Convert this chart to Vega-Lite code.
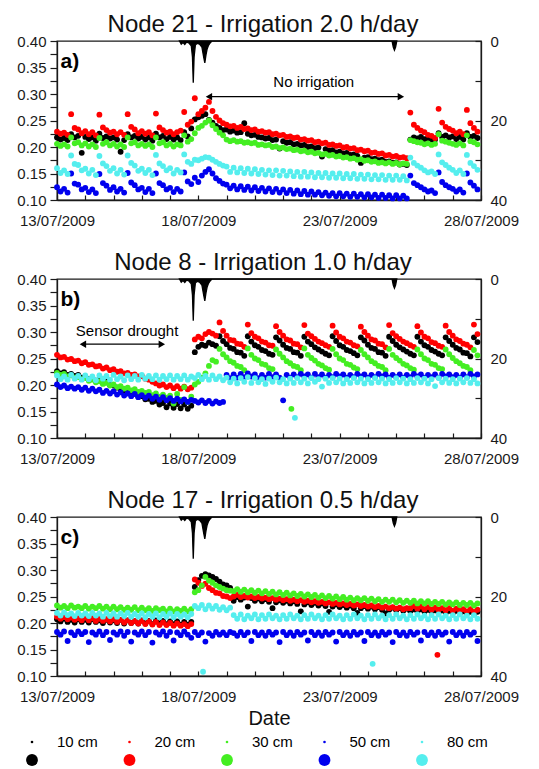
{
"$schema": "https://vega.github.io/schema/vega-lite/v6.json",
"background": "white",
"padding": {"left": 16, "top": 12, "right": 5, "bottom": 5},
"config": {
 "font": "Liberation Sans",
 "view": {"stroke": "#1a1a1a", "strokeWidth": 1.3},
 "axis": {"labelFont": "Liberation Sans", "labelFontSize": 15, "labelColor": "#1a1a1a", "tickColor": "#1a1a1a", "domainColor": "#1a1a1a", "domainWidth": 1.3, "tickWidth": 1.2, "grid": false, "titleFont": "Liberation Sans"},
 "title": {"font": "Liberation Sans", "fontSize": 24, "fontWeight": "normal", "color": "#111", "anchor": "middle", "offset": -3, "dx": -6},
 "text": {"font": "Liberation Sans"}
},
"datasets": {
 "A": [
{"h":0,"a":0.218,"b":0.229,"c":0.206,"d":0.124,"e":0.160},
{"h":3,"a":0.214,"b":0.225,"c":0.202,"d":0.116,"e":0.151},
{"h":6,"a":0.217,"b":0.227,"c":0.205,"d":0.121,"e":0.156},
{"h":9,"a":0.213,"b":0.223,"c":0.201,"d":0.114,"e":0.149},
{"h":12,"a":0.224,"b":0.262,"c":0.218,"d":0.150,"e":0.184},
{"h":15,"a":0.218,"b":0.236,"c":0.207,"d":0.131,"e":0.168},
{"h":18,"a":0.221,"b":0.233,"c":0.209,"d":0.129,"e":0.166},
{"h":21,"a":0.189,"b":0.226,"c":0.203,"d":0.120,"e":0.156},
{"h":24,"a":0.219,"b":0.230,"c":0.207,"d":0.123,"e":0.159},
{"h":27,"a":0.215,"b":0.224,"c":0.201,"d":0.115,"e":0.150},
{"h":30,"a":0.218,"b":0.228,"c":0.205,"d":0.120,"e":0.157},
{"h":33,"a":0.212,"b":0.222,"c":0.200,"d":0.113,"e":0.147},
{"h":36,"a":0.225,"b":0.261,"c":0.217,"d":0.149,"e":0.183},
{"h":39,"a":0.217,"b":0.237,"c":0.206,"d":0.132,"e":0.169},
{"h":42,"a":0.220,"b":0.232,"c":0.209,"d":0.127,"e":0.164},
{"h":45,"a":0.216,"b":0.227,"c":0.203,"d":0.119,"e":0.155},
{"h":48,"a":0.218,"b":0.229,"c":0.206,"d":0.124,"e":0.160},
{"h":51,"a":0.214,"b":0.224,"c":0.201,"d":0.116,"e":0.150},
{"h":54,"a":0.191,"b":0.228,"c":0.205,"d":0.121,"e":0.157},
{"h":57,"a":0.213,"b":0.223,"c":0.200,"d":0.114,"e":0.148},
{"h":60,"a":0.224,"b":0.262,"c":0.218,"d":0.151,"e":0.184},
{"h":63,"a":0.218,"b":0.238,"c":0.207,"d":0.133,"e":0.170},
{"h":66,"a":0.221,"b":0.233,"c":0.209,"d":0.128,"e":0.165},
{"h":69,"a":0.216,"b":0.226,"c":0.203,"d":0.120,"e":0.155},
{"h":72,"a":0.219,"b":0.230,"c":0.206,"d":0.123,"e":0.159},
{"h":75,"a":0.214,"b":0.225,"c":0.202,"d":0.115,"e":0.151},
{"h":78,"a":0.218,"b":0.228,"c":0.205,"d":0.121,"e":0.157},
{"h":81,"a":0.212,"b":0.222,"c":0.200,"d":0.113,"e":0.147},
{"h":84,"a":0.225,"b":0.263,"c":0.218,"d":0.150,"e":0.185},
{"h":87,"a":0.218,"b":0.237,"c":0.207,"d":0.132,"e":0.169},
{"h":90,"a":0.221,"b":0.232,"c":0.209,"d":0.128,"e":0.164},
{"h":93,"a":0.215,"b":0.227,"c":0.203,"d":0.120,"e":0.156},
{"h":96,"a":0.219,"b":0.229,"c":0.206,"d":0.123,"e":0.160},
{"h":99,"a":0.214,"b":0.224,"c":0.201,"d":0.115,"e":0.150},
{"h":102,"a":0.218,"b":0.228,"c":0.205,"d":0.121,"e":0.157},
{"h":105,"a":0.213,"b":0.231,"c":0.203,"d":0.116,"e":0.152},
{"h":108,"a":0.228,"b":0.266,"c":0.222,"d":0.152,"e":0.186},
{"h":111,"a":0.220,"b":0.242,"c":0.210,"d":0.135,"e":0.172},
{"h":114,"a":0.235,"b":0.248,"c":0.215,"d":0.130,"e":0.168},
{"h":117,"a":0.252,"b":0.292,"c":0.226,"d":0.142,"e":0.176},
{"h":120,"a":0.256,"b":0.262,"c":0.236,"d":0.134,"e":0.175},
{"h":123,"a":0.259,"b":0.268,"c":0.240,"d":0.146,"e":0.178},
{"h":126,"a":0.262,"b":0.274,"c":0.246,"d":0.153,"e":0.181},
{"h":129,"a":0.251,"b":0.285,"c":0.250,"d":0.158,"e":0.180},
{"h":132,"a":0.246,"b":0.268,"c":0.241,"d":0.150,"e":0.176},
{"h":135,"a":0.240,"b":0.257,"c":0.234,"d":0.141,"e":0.172},
{"h":138,"a":0.236,"b":0.250,"c":0.227,"d":0.136,"e":0.168},
{"h":141,"a":0.232,"b":0.245,"c":0.222,"d":0.131,"e":0.165},
{"h":144,"a":0.233,"b":0.242,"c":0.214,"d":0.129,"e":0.163},
{"h":147,"a":0.229,"b":0.239,"c":0.211,"d":0.122,"e":0.153},
{"h":150,"a":0.231,"b":0.240,"c":0.213,"d":0.127,"e":0.161},
{"h":153,"a":0.227,"b":0.236,"c":0.210,"d":0.120,"e":0.152},
{"h":156,"a":0.228,"b":0.238,"c":0.211,"d":0.126,"e":0.160},
{"h":159,"a":0.245,"b":0.234,"c":0.208,"d":0.119,"e":0.151},
{"h":162,"a":0.225,"b":0.235,"c":0.209,"d":0.125,"e":0.159},
{"h":165,"a":0.222,"b":0.232,"c":0.207,"d":0.118,"e":0.150},
{"h":168,"a":0.223,"b":0.233,"c":0.208,"d":0.124,"e":0.158},
{"h":171,"a":0.219,"b":0.229,"c":0.204,"d":0.117,"e":0.149},
{"h":174,"a":0.218,"b":0.230,"c":0.205,"d":0.123,"e":0.157},
{"h":177,"a":0.216,"b":0.227,"c":0.203,"d":0.116,"e":0.148},
{"h":180,"a":0.217,"b":0.228,"c":0.204,"d":0.122,"e":0.156},
{"h":183,"a":0.213,"b":0.224,"c":0.200,"d":0.115,"e":0.147},
{"h":186,"a":0.214,"b":0.225,"c":0.201,"d":0.121,"e":0.156},
{"h":189,"a":0.197,"b":0.222,"c":0.198,"d":0.114,"e":0.146},
{"h":192,"a":0.211,"b":0.223,"c":0.199,"d":0.120,"e":0.155},
{"h":195,"a":0.208,"b":0.219,"c":0.196,"d":0.113,"e":0.146},
{"h":198,"a":0.209,"b":0.220,"c":0.197,"d":0.119,"e":0.154},
{"h":201,"a":0.205,"b":0.217,"c":0.194,"d":0.112,"e":0.145},
{"h":204,"a":0.206,"b":0.218,"c":0.195,"d":0.118,"e":0.153},
{"h":207,"a":0.203,"b":0.214,"c":0.192,"d":0.111,"e":0.144},
{"h":210,"a":0.204,"b":0.215,"c":0.193,"d":0.117,"e":0.153},
{"h":213,"a":0.200,"b":0.212,"c":0.190,"d":0.110,"e":0.144},
{"h":216,"a":0.201,"b":0.213,"c":0.191,"d":0.116,"e":0.152},
{"h":219,"a":0.198,"b":0.209,"c":0.188,"d":0.110,"e":0.143},
{"h":222,"a":0.199,"b":0.210,"c":0.189,"d":0.115,"e":0.151},
{"h":225,"a":0.182,"b":0.207,"c":0.186,"d":0.109,"e":0.143},
{"h":228,"a":0.196,"b":0.208,"c":0.187,"d":0.114,"e":0.151},
{"h":231,"a":0.193,"b":0.204,"c":0.184,"d":0.108,"e":0.142},
{"h":234,"a":0.194,"b":0.205,"c":0.185,"d":0.113,"e":0.150},
{"h":237,"a":0.190,"b":0.202,"c":0.182,"d":0.107,"e":0.142},
{"h":240,"a":0.191,"b":0.203,"c":0.183,"d":0.113,"e":0.150},
{"h":243,"a":0.188,"b":0.199,"c":0.180,"d":0.107,"e":0.141},
{"h":246,"a":0.189,"b":0.200,"c":0.181,"d":0.112,"e":0.149},
{"h":249,"a":0.185,"b":0.197,"c":0.178,"d":0.106,"e":0.141},
{"h":252,"a":0.186,"b":0.198,"c":0.179,"d":0.112,"e":0.149},
{"h":255,"a":0.183,"b":0.194,"c":0.176,"d":0.106,"e":0.140},
{"h":258,"a":0.170,"b":0.195,"c":0.177,"d":0.111,"e":0.148},
{"h":261,"a":0.180,"b":0.192,"c":0.174,"d":0.105,"e":0.140},
{"h":264,"a":0.181,"b":0.193,"c":0.175,"d":0.111,"e":0.148},
{"h":267,"a":0.177,"b":0.189,"c":0.172,"d":0.105,"e":0.139},
{"h":270,"a":0.178,"b":0.190,"c":0.173,"d":0.110,"e":0.147},
{"h":273,"a":0.175,"b":0.187,"c":0.170,"d":0.104,"e":0.139},
{"h":276,"a":0.176,"b":0.188,"c":0.171,"d":0.110,"e":0.147},
{"h":279,"a":0.172,"b":0.184,"c":0.169,"d":0.104,"e":0.138},
{"h":282,"a":0.173,"b":0.185,"c":0.171,"d":0.109,"e":0.146},
{"h":285,"a":0.170,"b":0.182,"c":0.168,"d":0.103,"e":0.138},
{"h":288,"a":0.171,"b":0.183,"c":0.170,"d":0.109,"e":0.146},
{"h":291,"a":0.167,"b":0.180,"c":0.167,"d":0.103,"e":0.138},
{"h":294,"a":0.168,"b":0.181,"c":0.169,"d":0.108,"e":0.145},
{"h":297,"a":0.166,"b":0.179,"c":0.168,"d":0.103,"e":0.137},
{"h":300,"a":0.214,"b":0.265,"c":0.213,"d":0.146,"e":0.180},
{"h":303,"a":0.218,"b":0.242,"c":0.211,"d":0.132,"e":0.170},
{"h":306,"a":0.216,"b":0.236,"c":0.209,"d":0.128,"e":0.165},
{"h":309,"a":0.219,"b":0.231,"c":0.208,"d":0.124,"e":0.161},
{"h":312,"a":0.215,"b":0.228,"c":0.205,"d":0.120,"e":0.156},
{"h":315,"a":0.217,"b":0.223,"c":0.207,"d":0.116,"e":0.152},
{"h":318,"a":0.213,"b":0.221,"c":0.204,"d":0.118,"e":0.154},
{"h":321,"a":0.214,"b":0.217,"c":0.206,"d":0.113,"e":0.149},
{"h":324,"a":0.226,"b":0.272,"c":0.224,"d":0.152,"e":0.186},
{"h":327,"a":0.219,"b":0.246,"c":0.212,"d":0.134,"e":0.171},
{"h":330,"a":0.222,"b":0.238,"c":0.210,"d":0.128,"e":0.166},
{"h":333,"a":0.218,"b":0.234,"c":0.208,"d":0.124,"e":0.161},
{"h":336,"a":0.220,"b":0.231,"c":0.206,"d":0.121,"e":0.157},
{"h":339,"a":0.215,"b":0.226,"c":0.204,"d":0.116,"e":0.151},
{"h":342,"a":0.219,"b":0.229,"c":0.207,"d":0.120,"e":0.156},
{"h":345,"a":0.214,"b":0.224,"c":0.203,"d":0.114,"e":0.149},
{"h":348,"a":0.226,"b":0.270,"c":0.222,"d":0.150,"e":0.185},
{"h":351,"a":0.219,"b":0.245,"c":0.211,"d":0.133,"e":0.170},
{"h":354,"a":0.221,"b":0.236,"c":0.209,"d":0.127,"e":0.164},
{"h":357,"a":0.217,"b":0.229,"c":0.205,"d":0.120,"e":0.157}
 ],
 "B": [
{"h":0,"a":0.226,"b":0.257,"c":0.223,"d":0.201,"e":0.218},
{"h":3,"a":0.222,"b":0.252,"c":0.219,"d":0.196,"e":0.211},
{"h":6,"a":0.224,"b":0.253,"c":0.221,"d":0.199,"e":0.216},
{"h":9,"a":0.219,"b":0.248,"c":0.216,"d":0.194,"e":0.210},
{"h":12,"a":0.221,"b":0.249,"c":0.218,"d":0.197,"e":0.219},
{"h":15,"a":0.217,"b":0.245,"c":0.214,"d":0.193,"e":0.212},
{"h":18,"a":0.219,"b":0.246,"c":0.215,"d":0.196,"e":0.217},
{"h":21,"a":0.214,"b":0.241,"c":0.211,"d":0.191,"e":0.210},
{"h":24,"a":0.216,"b":0.243,"c":0.213,"d":0.195,"e":0.218},
{"h":27,"a":0.211,"b":0.238,"c":0.208,"d":0.189,"e":0.211},
{"h":30,"a":0.213,"b":0.239,"c":0.210,"d":0.193,"e":0.216},
{"h":33,"a":0.208,"b":0.235,"c":0.205,"d":0.188,"e":0.209},
{"h":36,"a":0.210,"b":0.236,"c":0.207,"d":0.191,"e":0.218},
{"h":39,"a":0.204,"b":0.231,"c":0.202,"d":0.185,"e":0.212},
{"h":42,"a":0.206,"b":0.233,"c":0.204,"d":0.189,"e":0.217},
{"h":45,"a":0.200,"b":0.228,"c":0.199,"d":0.184,"e":0.210},
{"h":48,"a":0.199,"b":0.230,"c":0.201,"d":0.188,"e":0.219},
{"h":51,"a":0.195,"b":0.225,"c":0.196,"d":0.182,"e":0.211},
{"h":54,"a":0.193,"b":0.226,"c":0.198,"d":0.186,"e":0.216},
{"h":57,"a":0.188,"b":0.222,"c":0.193,"d":0.180,"e":0.209},
{"h":60,"a":0.189,"b":0.223,"c":0.195,"d":0.184,"e":0.218},
{"h":63,"a":0.183,"b":0.219,"c":0.190,"d":0.179,"e":0.211},
{"h":66,"a":0.184,"b":0.220,"c":0.192,"d":0.183,"e":0.217},
{"h":69,"a":0.178,"b":0.216,"c":0.187,"d":0.177,"e":0.210},
{"h":72,"a":0.179,"b":0.217,"c":0.189,"d":0.181,"e":0.219},
{"h":75,"a":0.173,"b":0.212,"c":0.185,"d":0.176,"e":0.212},
{"h":78,"a":0.174,"b":0.210,"c":0.187,"d":0.180,"e":0.217},
{"h":81,"a":0.168,"b":0.206,"c":0.181,"d":0.174,"e":0.211},
{"h":84,"a":0.170,"b":0.203,"c":0.184,"d":0.178,"e":0.218},
{"h":87,"a":0.163,"b":0.199,"c":0.178,"d":0.172,"e":0.210},
{"h":90,"a":0.166,"b":0.201,"c":0.182,"d":0.177,"e":0.217},
{"h":93,"a":0.158,"b":0.196,"c":0.176,"d":0.171,"e":0.211},
{"h":96,"a":0.165,"b":0.199,"c":0.180,"d":0.175,"e":0.218},
{"h":99,"a":0.157,"b":0.194,"c":0.165,"d":0.170,"e":0.210},
{"h":102,"a":0.164,"b":0.198,"c":0.183,"d":0.174,"e":0.217},
{"h":105,"a":0.156,"b":0.193,"c":0.172,"d":0.169,"e":0.211},
{"h":108,"a":0.163,"b":0.197,"c":0.196,"d":0.173,"e":0.218},
{"h":111,"a":0.155,"b":0.192,"c":0.168,"d":0.168,"e":0.210},
{"h":114,"a":0.161,"b":0.195,"c":0.178,"d":0.172,"e":0.216},
{"h":117,"a":0.262,"b":0.286,"c":0.201,"d":0.170,"e":0.213},
{"h":120,"a":0.272,"b":0.291,"c":0.206,"d":0.167,"e":0.219},
{"h":123,"a":0.276,"b":0.288,"c":0.214,"d":0.171,"e":0.211},
{"h":126,"a":0.274,"b":0.296,"c":0.222,"d":0.166,"e":0.217},
{"h":129,"a":0.280,"b":0.300,"c":0.236,"d":0.170,"e":0.210},
{"h":132,"a":0.277,"b":0.297,"c":0.247,"d":0.165,"e":0.218},
{"h":135,"a":0.274,"b":0.293,"c":0.244,"d":0.169,"e":0.211},
{"h":138,"a":0.292,"b":0.318,"c":0.268,"d":0.166,"e":0.216},
{"h":141,"a":0.283,"b":0.302,"c":0.258,"d":0.168,"e":0.209},
{"h":144,"a":0.277,"b":0.293,"c":0.252,"d":0.219,"e":0.214},
{"h":147,"a":0.270,"b":0.285,"c":0.245,"d":0.213,"e":0.205},
{"h":150,"a":0.268,"b":0.284,"c":0.242,"d":0.220,"e":0.212},
{"h":153,"a":0.262,"b":0.278,"c":0.236,"d":0.214,"e":0.203},
{"h":156,"a":0.261,"b":0.277,"c":0.234,"d":0.221,"e":0.213},
{"h":159,"a":0.255,"b":0.272,"c":0.228,"d":0.215,"e":0.206},
{"h":162,"a":0.292,"b":0.314,"c":0.269,"d":0.222,"e":0.215},
{"h":165,"a":0.282,"b":0.298,"c":0.257,"d":0.216,"e":0.204},
{"h":168,"a":0.275,"b":0.291,"c":0.250,"d":0.220,"e":0.213},
{"h":171,"a":0.272,"b":0.288,"c":0.247,"d":0.213,"e":0.205},
{"h":174,"a":0.266,"b":0.282,"c":0.240,"d":0.219,"e":0.211},
{"h":177,"a":0.264,"b":0.280,"c":0.238,"d":0.214,"e":0.202},
{"h":180,"a":0.259,"b":0.275,"c":0.232,"d":0.221,"e":0.212},
{"h":183,"a":0.257,"b":0.274,"c":0.230,"d":0.215,"e":0.206},
{"h":186,"a":0.290,"b":0.311,"c":0.267,"d":0.220,"e":0.214},
{"h":189,"a":0.284,"b":0.300,"c":0.259,"d":0.214,"e":0.205},
{"h":192,"a":0.276,"b":0.293,"c":0.252,"d":0.171,"e":0.211},
{"h":195,"a":0.270,"b":0.286,"c":0.245,"d":0.219,"e":0.203},
{"h":198,"a":0.268,"b":0.284,"c":0.241,"d":0.214,"e":0.212},
{"h":201,"a":0.262,"b":0.278,"c":0.236,"d":0.220,"e":0.204},
{"h":204,"a":0.261,"b":0.277,"c":0.234,"d":0.215,"e":0.213},
{"h":207,"a":0.255,"b":0.271,"c":0.228,"d":0.221,"e":0.205},
{"h":210,"a":0.291,"b":0.313,"c":0.269,"d":0.216,"e":0.212},
{"h":213,"a":0.282,"b":0.297,"c":0.257,"d":0.220,"e":0.203},
{"h":216,"a":0.277,"b":0.292,"c":0.251,"d":0.214,"e":0.213},
{"h":219,"a":0.271,"b":0.287,"c":0.246,"d":0.221,"e":0.206},
{"h":222,"a":0.267,"b":0.282,"c":0.240,"d":0.215,"e":0.211},
{"h":225,"a":0.263,"b":0.279,"c":0.237,"d":0.220,"e":0.197},
{"h":228,"a":0.259,"b":0.275,"c":0.232,"d":0.214,"e":0.212},
{"h":231,"a":0.256,"b":0.272,"c":0.229,"d":0.219,"e":0.204},
{"h":234,"a":0.292,"b":0.312,"c":0.268,"d":0.215,"e":0.213},
{"h":237,"a":0.283,"b":0.299,"c":0.258,"d":0.221,"e":0.205},
{"h":240,"a":0.275,"b":0.291,"c":0.250,"d":0.216,"e":0.212},
{"h":243,"a":0.272,"b":0.288,"c":0.247,"d":0.220,"e":0.203},
{"h":246,"a":0.266,"b":0.282,"c":0.240,"d":0.214,"e":0.211},
{"h":249,"a":0.264,"b":0.280,"c":0.238,"d":0.219,"e":0.204},
{"h":252,"a":0.260,"b":0.275,"c":0.233,"d":0.215,"e":0.213},
{"h":255,"a":0.256,"b":0.273,"c":0.230,"d":0.221,"e":0.205},
{"h":258,"a":0.290,"b":0.310,"c":0.266,"d":0.216,"e":0.212},
{"h":261,"a":0.284,"b":0.300,"c":0.258,"d":0.220,"e":0.203},
{"h":264,"a":0.276,"b":0.293,"c":0.252,"d":0.214,"e":0.211},
{"h":267,"a":0.270,"b":0.286,"c":0.245,"d":0.219,"e":0.204},
{"h":270,"a":0.268,"b":0.284,"c":0.241,"d":0.215,"e":0.213},
{"h":273,"a":0.262,"b":0.278,"c":0.236,"d":0.221,"e":0.205},
{"h":276,"a":0.261,"b":0.277,"c":0.234,"d":0.216,"e":0.212},
{"h":279,"a":0.255,"b":0.271,"c":0.228,"d":0.220,"e":0.203},
{"h":282,"a":0.291,"b":0.313,"c":0.268,"d":0.214,"e":0.211},
{"h":285,"a":0.283,"b":0.298,"c":0.257,"d":0.219,"e":0.204},
{"h":288,"a":0.276,"b":0.292,"c":0.251,"d":0.215,"e":0.213},
{"h":291,"a":0.271,"b":0.287,"c":0.246,"d":0.220,"e":0.205},
{"h":294,"a":0.267,"b":0.282,"c":0.240,"d":0.214,"e":0.212},
{"h":297,"a":0.263,"b":0.279,"c":0.237,"d":0.219,"e":0.203},
{"h":300,"a":0.259,"b":0.275,"c":0.232,"d":0.215,"e":0.211},
{"h":303,"a":0.256,"b":0.272,"c":0.229,"d":0.221,"e":0.204},
{"h":306,"a":0.291,"b":0.311,"c":0.267,"d":0.216,"e":0.213},
{"h":309,"a":0.282,"b":0.299,"c":0.258,"d":0.220,"e":0.205},
{"h":312,"a":0.275,"b":0.291,"c":0.250,"d":0.214,"e":0.212},
{"h":315,"a":0.272,"b":0.288,"c":0.247,"d":0.219,"e":0.203},
{"h":318,"a":0.266,"b":0.281,"c":0.240,"d":0.215,"e":0.211},
{"h":321,"a":0.263,"b":0.279,"c":0.238,"d":0.220,"e":0.198},
{"h":324,"a":0.259,"b":0.274,"c":0.232,"d":0.214,"e":0.213},
{"h":327,"a":0.256,"b":0.272,"c":0.230,"d":0.221,"e":0.205},
{"h":330,"a":0.290,"b":0.312,"c":0.267,"d":0.216,"e":0.212},
{"h":333,"a":0.283,"b":0.300,"c":0.258,"d":0.220,"e":0.204},
{"h":336,"a":0.276,"b":0.293,"c":0.251,"d":0.215,"e":0.211},
{"h":339,"a":0.270,"b":0.286,"c":0.245,"d":0.219,"e":0.203},
{"h":342,"a":0.267,"b":0.283,"c":0.241,"d":0.214,"e":0.212},
{"h":345,"a":0.261,"b":0.278,"c":0.236,"d":0.220,"e":0.205},
{"h":348,"a":0.260,"b":0.276,"c":0.234,"d":0.215,"e":0.213},
{"h":351,"a":0.254,"b":0.271,"c":0.228,"d":0.221,"e":0.204},
{"h":354,"a":0.290,"b":0.314,"c":0.266,"d":0.216,"e":0.211},
{"h":357,"a":0.281,"b":0.296,"c":0.256,"d":0.220,"e":0.203},
{"h":199,"c":0.155},
{"h":202,"e":0.138}
 ],
 "C": [
{"h":0,"a":0.207,"b":0.212,"c":0.233,"d":0.183,"e":0.219},
{"h":3,"a":0.203,"b":0.208,"c":0.229,"d":0.178,"e":0.214},
{"h":6,"a":0.208,"b":0.211,"c":0.232,"d":0.184,"e":0.220},
{"h":9,"a":0.202,"b":0.207,"c":0.228,"d":0.166,"e":0.215},
{"h":12,"a":0.206,"b":0.210,"c":0.233,"d":0.182,"e":0.218},
{"h":15,"a":0.201,"b":0.206,"c":0.229,"d":0.177,"e":0.213},
{"h":18,"a":0.207,"b":0.209,"c":0.231,"d":0.184,"e":0.219},
{"h":21,"a":0.202,"b":0.205,"c":0.228,"d":0.179,"e":0.214},
{"h":24,"a":0.206,"b":0.210,"c":0.232,"d":0.183,"e":0.218},
{"h":27,"a":0.201,"b":0.205,"c":0.227,"d":0.164,"e":0.213},
{"h":30,"a":0.207,"b":0.209,"c":0.231,"d":0.182,"e":0.219},
{"h":33,"a":0.202,"b":0.204,"c":0.228,"d":0.178,"e":0.214},
{"h":36,"a":0.205,"b":0.208,"c":0.232,"d":0.184,"e":0.218},
{"h":39,"a":0.200,"b":0.204,"c":0.227,"d":0.177,"e":0.212},
{"h":42,"a":0.206,"b":0.207,"c":0.231,"d":0.183,"e":0.219},
{"h":45,"a":0.201,"b":0.203,"c":0.226,"d":0.168,"e":0.213},
{"h":48,"a":0.205,"b":0.207,"c":0.231,"d":0.182,"e":0.218},
{"h":51,"a":0.200,"b":0.202,"c":0.226,"d":0.178,"e":0.212},
{"h":54,"a":0.206,"b":0.206,"c":0.230,"d":0.184,"e":0.218},
{"h":57,"a":0.199,"b":0.201,"c":0.225,"d":0.176,"e":0.213},
{"h":60,"a":0.205,"b":0.205,"c":0.229,"d":0.183,"e":0.219},
{"h":63,"a":0.200,"b":0.200,"c":0.225,"d":0.165,"e":0.212},
{"h":66,"a":0.204,"b":0.204,"c":0.230,"d":0.182,"e":0.217},
{"h":69,"a":0.199,"b":0.199,"c":0.224,"d":0.178,"e":0.212},
{"h":72,"a":0.205,"b":0.204,"c":0.229,"d":0.184,"e":0.218},
{"h":75,"a":0.199,"b":0.198,"c":0.224,"d":0.177,"e":0.211},
{"h":78,"a":0.204,"b":0.203,"c":0.228,"d":0.183,"e":0.217},
{"h":81,"a":0.198,"b":0.197,"c":0.223,"d":0.163,"e":0.212},
{"h":84,"a":0.205,"b":0.202,"c":0.228,"d":0.182,"e":0.218},
{"h":87,"a":0.199,"b":0.196,"c":0.224,"d":0.178,"e":0.211},
{"h":90,"a":0.204,"b":0.201,"c":0.227,"d":0.184,"e":0.217},
{"h":93,"a":0.198,"b":0.196,"c":0.222,"d":0.176,"e":0.212},
{"h":96,"a":0.203,"b":0.200,"c":0.227,"d":0.183,"e":0.218},
{"h":99,"a":0.198,"b":0.195,"c":0.222,"d":0.167,"e":0.211},
{"h":102,"a":0.203,"b":0.199,"c":0.226,"d":0.182,"e":0.217},
{"h":105,"a":0.197,"b":0.195,"c":0.223,"d":0.177,"e":0.212},
{"h":108,"a":0.202,"b":0.198,"c":0.227,"d":0.184,"e":0.216},
{"h":111,"a":0.197,"b":0.194,"c":0.222,"d":0.178,"e":0.211},
{"h":114,"a":0.202,"b":0.198,"c":0.226,"d":0.172,"e":0.217},
{"h":117,"a":0.268,"b":0.282,"c":0.258,"d":0.183,"e":0.232},
{"h":120,"a":0.281,"b":0.276,"c":0.262,"d":0.177,"e":0.228},
{"h":123,"a":0.289,"b":0.270,"c":0.271,"d":0.182,"e":0.234},
{"h":126,"a":0.292,"b":0.274,"c":0.287,"d":0.165,"e":0.226},
{"h":129,"a":0.290,"b":0.266,"c":0.280,"d":0.181,"e":0.233},
{"h":132,"a":0.287,"b":0.262,"c":0.276,"d":0.176,"e":0.227},
{"h":135,"a":0.283,"b":0.257,"c":0.271,"d":0.183,"e":0.232},
{"h":138,"a":0.278,"b":0.256,"c":0.268,"d":0.178,"e":0.225},
{"h":141,"a":0.273,"b":0.251,"c":0.265,"d":0.182,"e":0.230},
{"h":144,"a":0.271,"b":0.250,"c":0.262,"d":0.177,"e":0.224},
{"h":147,"a":0.266,"b":0.247,"c":0.261,"d":0.183,"e":0.229},
{"h":150,"a":0.242,"b":0.250,"c":0.260,"d":0.181,"e":0.215},
{"h":153,"a":0.249,"b":0.253,"c":0.264,"d":0.176,"e":0.208},
{"h":156,"a":0.244,"b":0.249,"c":0.259,"d":0.183,"e":0.216},
{"h":159,"a":0.248,"b":0.251,"c":0.263,"d":0.177,"e":0.207},
{"h":162,"a":0.231,"b":0.248,"c":0.258,"d":0.182,"e":0.214},
{"h":165,"a":0.247,"b":0.250,"c":0.262,"d":0.166,"e":0.209},
{"h":168,"a":0.242,"b":0.247,"c":0.257,"d":0.183,"e":0.216},
{"h":171,"a":0.246,"b":0.249,"c":0.261,"d":0.177,"e":0.207},
{"h":174,"a":0.241,"b":0.246,"c":0.256,"d":0.182,"e":0.215},
{"h":177,"a":0.245,"b":0.248,"c":0.260,"d":0.176,"e":0.208},
{"h":180,"a":0.240,"b":0.245,"c":0.255,"d":0.183,"e":0.216},
{"h":183,"a":0.228,"b":0.247,"c":0.259,"d":0.178,"e":0.209},
{"h":186,"a":0.239,"b":0.244,"c":0.254,"d":0.182,"e":0.214},
{"h":189,"a":0.243,"b":0.246,"c":0.258,"d":0.164,"e":0.207},
{"h":192,"a":0.238,"b":0.243,"c":0.253,"d":0.183,"e":0.215},
{"h":195,"a":0.242,"b":0.245,"c":0.257,"d":0.177,"e":0.208},
{"h":198,"a":0.237,"b":0.242,"c":0.252,"d":0.182,"e":0.216},
{"h":201,"a":0.241,"b":0.244,"c":0.256,"d":0.176,"e":0.209},
{"h":204,"a":0.236,"b":0.241,"c":0.251,"d":0.183,"e":0.214},
{"h":207,"a":0.222,"b":0.243,"c":0.255,"d":0.178,"e":0.207},
{"h":210,"a":0.235,"b":0.240,"c":0.250,"d":0.182,"e":0.215},
{"h":213,"a":0.239,"b":0.242,"c":0.254,"d":0.167,"e":0.208},
{"h":216,"a":0.234,"b":0.239,"c":0.249,"d":0.183,"e":0.216},
{"h":219,"a":0.238,"b":0.241,"c":0.253,"d":0.177,"e":0.209},
{"h":222,"a":0.233,"b":0.238,"c":0.248,"d":0.182,"e":0.214},
{"h":225,"a":0.237,"b":0.240,"c":0.252,"d":0.176,"e":0.207},
{"h":228,"a":0.232,"b":0.237,"c":0.247,"d":0.183,"e":0.215},
{"h":231,"a":0.221,"b":0.239,"c":0.251,"d":0.178,"e":0.208},
{"h":234,"a":0.231,"b":0.236,"c":0.246,"d":0.182,"e":0.216},
{"h":237,"a":0.235,"b":0.238,"c":0.250,"d":0.165,"e":0.209},
{"h":240,"a":0.230,"b":0.235,"c":0.245,"d":0.183,"e":0.214},
{"h":243,"a":0.234,"b":0.237,"c":0.249,"d":0.177,"e":0.207},
{"h":246,"a":0.229,"b":0.234,"c":0.244,"d":0.182,"e":0.215},
{"h":249,"a":0.233,"b":0.236,"c":0.248,"d":0.176,"e":0.208},
{"h":252,"a":0.228,"b":0.233,"c":0.243,"d":0.183,"e":0.216},
{"h":255,"a":0.219,"b":0.235,"c":0.247,"d":0.178,"e":0.209},
{"h":258,"a":0.228,"b":0.232,"c":0.243,"d":0.182,"e":0.214},
{"h":261,"a":0.232,"b":0.234,"c":0.247,"d":0.166,"e":0.207},
{"h":264,"a":0.227,"b":0.231,"c":0.242,"d":0.183,"e":0.215},
{"h":267,"a":0.231,"b":0.233,"c":0.246,"d":0.177,"e":0.208},
{"h":270,"a":0.226,"b":0.230,"c":0.241,"d":0.182,"e":0.216},
{"h":273,"a":0.230,"b":0.232,"c":0.245,"d":0.176,"e":0.209},
{"h":276,"a":0.225,"b":0.229,"c":0.240,"d":0.183,"e":0.214},
{"h":279,"a":0.218,"b":0.231,"c":0.244,"d":0.178,"e":0.207},
{"h":282,"a":0.225,"b":0.228,"c":0.240,"d":0.182,"e":0.215},
{"h":285,"a":0.229,"b":0.230,"c":0.244,"d":0.164,"e":0.208},
{"h":288,"a":0.224,"b":0.227,"c":0.239,"d":0.183,"e":0.216},
{"h":291,"a":0.228,"b":0.229,"c":0.243,"d":0.177,"e":0.209},
{"h":294,"a":0.223,"b":0.226,"c":0.238,"d":0.182,"e":0.214},
{"h":297,"a":0.227,"b":0.228,"c":0.242,"d":0.176,"e":0.207},
{"h":300,"a":0.222,"b":0.228,"c":0.238,"d":0.183,"e":0.215},
{"h":303,"a":0.226,"b":0.232,"c":0.242,"d":0.178,"e":0.208},
{"h":306,"a":0.222,"b":0.227,"c":0.237,"d":0.182,"e":0.216},
{"h":309,"a":0.226,"b":0.231,"c":0.241,"d":0.167,"e":0.209},
{"h":312,"a":0.221,"b":0.226,"c":0.237,"d":0.183,"e":0.214},
{"h":315,"a":0.225,"b":0.230,"c":0.241,"d":0.177,"e":0.207},
{"h":318,"a":0.221,"b":0.225,"c":0.236,"d":0.182,"e":0.215},
{"h":321,"a":0.224,"b":0.229,"c":0.240,"d":0.176,"e":0.208},
{"h":324,"a":0.220,"b":0.225,"c":0.236,"d":0.183,"e":0.216},
{"h":327,"a":0.224,"b":0.228,"c":0.240,"d":0.178,"e":0.209},
{"h":330,"a":0.219,"b":0.224,"c":0.235,"d":0.182,"e":0.214},
{"h":333,"a":0.223,"b":0.228,"c":0.239,"d":0.165,"e":0.207},
{"h":336,"a":0.219,"b":0.223,"c":0.235,"d":0.183,"e":0.215},
{"h":339,"a":0.223,"b":0.227,"c":0.239,"d":0.177,"e":0.208},
{"h":342,"a":0.218,"b":0.223,"c":0.234,"d":0.182,"e":0.216},
{"h":345,"a":0.222,"b":0.226,"c":0.238,"d":0.176,"e":0.209},
{"h":348,"a":0.218,"b":0.222,"c":0.234,"d":0.183,"e":0.214},
{"h":351,"a":0.221,"b":0.226,"c":0.238,"d":0.178,"e":0.207},
{"h":354,"a":0.217,"b":0.221,"c":0.233,"d":0.182,"e":0.215},
{"h":357,"a":0.221,"b":0.225,"c":0.237,"d":0.166,"e":0.208},
{"h":124,"e":0.108},
{"h":268,"e":0.123},
{"h":323,"b":0.140}
 ],
 "rain": [
{"h":104,"r":0},{"h":105.5,"r":0.8},{"h":107,"r":0.4},{"h":108.5,"r":0.9},{"h":110,"r":0.3},{"h":112,"r":0.5},{"h":114,"r":1.2},{"h":115,"r":4},{"h":115.7,"r":10.5},{"h":116.4,"r":4},{"h":117.5,"r":1},{"h":119,"r":0.6},{"h":121,"r":0.8},{"h":123,"r":1.5},{"h":124.5,"r":4},{"h":125.5,"r":5.5},{"h":126.5,"r":3.5},{"h":127.5,"r":2},{"h":128.5,"r":1.2},{"h":130,"r":0.5},{"h":131.5,"r":0},{"h":284.5,"r":0},{"h":285.5,"r":1.5},{"h":286.5,"r":2.3},{"h":287.5,"r":1.5},{"h":288.5,"r":0}
 ],
 "legend": [
{"k":"a","label":"10 cm"},{"k":"b","label":"20 cm"},{"k":"c","label":"30 cm"},{"k":"d","label":"50 cm"},{"k":"e","label":"80 cm"}
 ]
},
"spacing": 4,
"vconcat": [
{
"spacing": 21,
"vconcat": [
{
 "title": "Node 21 - Irrigation 2.0 h/day",
 "width": 424, "height": 159,
 "encoding": {"x": {"field": "h", "type": "quantitative", "scale": {"domain": [0, 360], "nice": false, "zero": false}, "axis": {"title": null, "values": [0,24,48,72,96,120,144,168,192,216,240,264,288,312,336,360], "labelExpr": "datum.value % 120 == 0 ? (13 + datum.value/24) + '/07/2009' : ''", "tickSize": -5, "labelPadding": 18, "labelFlush": false}}},
 "layer": [
  {"data": {"name": "A"}, "transform": [{"fold": ["a","b","c","d","e"], "as": ["k","v"]}],
   "mark": {"type": "circle", "size": 34, "opacity": 1},
   "encoding": {
    "y": {"field": "v", "type": "quantitative", "scale": {"domain": [0.1, 0.4], "nice": false, "zero": false}, "axis": {"orient": "left", "title": null, "values": [0.1,0.125,0.15,0.175,0.2,0.225,0.25,0.275,0.3,0.325,0.35,0.375,0.4], "labelExpr": "abs(datum.value*20 - round(datum.value*20)) < 0.01 ? format(datum.value, '.2f') : ''", "tickSize": 7, "labelPadding": 4}},
    "color": {"field": "k", "type": "nominal", "scale": {"domain": ["a","b","c","d","e"], "range": ["#000000","#ff0000","#44ee22","#0000ee","#55eeee"]}, "legend": null},
    "order": {"field": "k", "type": "nominal"}}},
  {"data": {"name": "rain"},
   "mark": {"type": "area", "color": "black", "stroke": "black", "strokeWidth": 1.3},
   "encoding": {"y": {"field": "r", "type": "quantitative", "scale": {"domain": [0, 40], "reverse": true, "nice": false}, "axis": {"orient": "right", "title": null, "values": [0,10,20,30,40], "labelExpr": "datum.value % 20 == 0 ? datum.label : ''", "tickSize": -6, "labelPadding": 15}}}},
  {"data": {"values": [{"h": 3, "v": 0.36, "t": "a)"}]},
   "mark": {"type": "text", "align": "left", "baseline": "middle", "fontSize": 21, "fontWeight": "bold", "color": "black"},
   "encoding": {"y": {"field": "v", "type": "quantitative", "scale": {"domain": [0.1, 0.4], "nice": false, "zero": false}, "axis": null}, "text": {"field": "t"}}},
  {"data": {"values": [{"h": 129, "h2": 292, "v": 0.295}]},
   "mark": {"type": "rule", "color": "black", "strokeWidth": 1.2},
   "encoding": {"x2": {"field": "h2"}, "y": {"field": "v", "type": "quantitative", "scale": {"domain": [0.1, 0.4], "nice": false, "zero": false}, "axis": null}}},
  {"data": {"values": [{"h": 129, "v": 0.295, "d": "l"}, {"h": 292, "v": 0.295, "d": "r"}]},
   "mark": {"type": "point", "filled": true, "color": "black", "size": 55, "opacity": 1},
   "encoding": {"y": {"field": "v", "type": "quantitative", "scale": {"domain": [0.1, 0.4], "nice": false, "zero": false}, "axis": null}, "shape": {"field": "d", "type": "nominal", "scale": {"domain": ["l","r"], "range": ["triangle-left","triangle-right"]}, "legend": null}}},
  {"data": {"values": [{"h": 218, "v": 0.322, "t": "No irrigation"}]},
   "mark": {"type": "text", "baseline": "middle", "fontSize": 15, "color": "black"},
   "encoding": {"y": {"field": "v", "type": "quantitative", "scale": {"domain": [0.1, 0.4], "nice": false, "zero": false}, "axis": null}, "text": {"field": "t"}}}
 ],
 "resolve": {"scale": {"y": "independent"}}
},
{
 "title": "Node 8 - Irrigation 1.0 h/day",
 "width": 424, "height": 159,
 "encoding": {"x": {"field": "h", "type": "quantitative", "scale": {"domain": [0, 360], "nice": false, "zero": false}, "axis": {"title": null, "values": [0,24,48,72,96,120,144,168,192,216,240,264,288,312,336,360], "labelExpr": "datum.value % 120 == 0 ? (13 + datum.value/24) + '/07/2009' : ''", "tickSize": -5, "labelPadding": 18, "labelFlush": false}}},
 "layer": [
  {"data": {"name": "B"}, "transform": [{"fold": ["a","b","c","d","e"], "as": ["k","v"]}],
   "mark": {"type": "circle", "size": 34, "opacity": 1},
   "encoding": {
    "y": {"field": "v", "type": "quantitative", "scale": {"domain": [0.1, 0.4], "nice": false, "zero": false}, "axis": {"orient": "left", "title": null, "values": [0.1,0.125,0.15,0.175,0.2,0.225,0.25,0.275,0.3,0.325,0.35,0.375,0.4], "labelExpr": "abs(datum.value*20 - round(datum.value*20)) < 0.01 ? format(datum.value, '.2f') : ''", "tickSize": 7, "labelPadding": 4}},
    "color": {"field": "k", "type": "nominal", "scale": {"domain": ["a","b","c","d","e"], "range": ["#000000","#ff0000","#44ee22","#0000ee","#55eeee"]}, "legend": null},
    "order": {"field": "k", "type": "nominal"}}},
  {"data": {"name": "rain"},
   "mark": {"type": "area", "color": "black", "stroke": "black", "strokeWidth": 1.3},
   "encoding": {"y": {"field": "r", "type": "quantitative", "scale": {"domain": [0, 40], "reverse": true, "nice": false}, "axis": {"orient": "right", "title": null, "values": [0,10,20,30,40], "labelExpr": "datum.value % 20 == 0 ? datum.label : ''", "tickSize": -6, "labelPadding": 15}}}},
  {"data": {"values": [{"h": 3, "v": 0.36, "t": "b)"}]},
   "mark": {"type": "text", "align": "left", "baseline": "middle", "fontSize": 21, "fontWeight": "bold", "color": "black"},
   "encoding": {"y": {"field": "v", "type": "quantitative", "scale": {"domain": [0.1, 0.4], "nice": false, "zero": false}, "axis": null}, "text": {"field": "t"}}},
  {"data": {"values": [{"h": 22, "h2": 89, "v": 0.277}]},
   "mark": {"type": "rule", "color": "black", "strokeWidth": 1.2},
   "encoding": {"x2": {"field": "h2"}, "y": {"field": "v", "type": "quantitative", "scale": {"domain": [0.1, 0.4], "nice": false, "zero": false}, "axis": null}}},
  {"data": {"values": [{"h": 22, "v": 0.277, "d": "l"}, {"h": 89, "v": 0.277, "d": "r"}]},
   "mark": {"type": "point", "filled": true, "color": "black", "size": 55, "opacity": 1},
   "encoding": {"y": {"field": "v", "type": "quantitative", "scale": {"domain": [0.1, 0.4], "nice": false, "zero": false}, "axis": null}, "shape": {"field": "d", "type": "nominal", "scale": {"domain": ["l","r"], "range": ["triangle-left","triangle-right"]}, "legend": null}}},
  {"data": {"values": [{"h": 59.5, "v": 0.301, "t": "Sensor drought"}]},
   "mark": {"type": "text", "baseline": "middle", "fontSize": 15, "color": "black"},
   "encoding": {"y": {"field": "v", "type": "quantitative", "scale": {"domain": [0.1, 0.4], "nice": false, "zero": false}, "axis": null}, "text": {"field": "t"}}}
 ],
 "resolve": {"scale": {"y": "independent"}}
},
{
 "title": "Node 17 - Irrigation 0.5 h/day",
 "width": 424, "height": 159,
 "encoding": {"x": {"field": "h", "type": "quantitative", "scale": {"domain": [0, 360], "nice": false, "zero": false}, "axis": {"title": "Date", "titleFontSize": 20, "titleFontWeight": "normal", "titleColor": "#111", "titlePadding": 4, "values": [0,24,48,72,96,120,144,168,192,216,240,264,288,312,336,360], "labelExpr": "datum.value % 120 == 0 ? (13 + datum.value/24) + '/07/2009' : ''", "tickSize": -5, "labelPadding": 18, "labelFlush": false}}},
 "layer": [
  {"data": {"name": "C"}, "transform": [{"fold": ["a","b","c","d","e"], "as": ["k","v"]}],
   "mark": {"type": "circle", "size": 34, "opacity": 1},
   "encoding": {
    "y": {"field": "v", "type": "quantitative", "scale": {"domain": [0.1, 0.4], "nice": false, "zero": false}, "axis": {"orient": "left", "title": null, "values": [0.1,0.125,0.15,0.175,0.2,0.225,0.25,0.275,0.3,0.325,0.35,0.375,0.4], "labelExpr": "abs(datum.value*20 - round(datum.value*20)) < 0.01 ? format(datum.value, '.2f') : ''", "tickSize": 7, "labelPadding": 4}},
    "color": {"field": "k", "type": "nominal", "scale": {"domain": ["a","b","c","d","e"], "range": ["#000000","#ff0000","#44ee22","#0000ee","#55eeee"]}, "legend": null},
    "order": {"field": "k", "type": "nominal"}}},
  {"data": {"name": "rain"},
   "mark": {"type": "area", "color": "black", "stroke": "black", "strokeWidth": 1.3},
   "encoding": {"y": {"field": "r", "type": "quantitative", "scale": {"domain": [0, 40], "reverse": true, "nice": false}, "axis": {"orient": "right", "title": null, "values": [0,10,20,30,40], "labelExpr": "datum.value % 20 == 0 ? datum.label : ''", "tickSize": -6, "labelPadding": 15}}}},
  {"data": {"values": [{"h": 3, "v": 0.36, "t": "c)"}]},
   "mark": {"type": "text", "align": "left", "baseline": "middle", "fontSize": 21, "fontWeight": "bold", "color": "black"},
   "encoding": {"y": {"field": "v", "type": "quantitative", "scale": {"domain": [0.1, 0.4], "nice": false, "zero": false}, "axis": null}, "text": {"field": "t"}}}
 ],
 "resolve": {"scale": {"y": "independent"}}
}
]
},
{
 "width": 424, "height": 34,
 "view": {"stroke": null},
 "data": {"name": "legend"},
 "encoding": {
  "x": {"field": "k", "type": "nominal", "scale": {"type": "point", "domain": ["a","b","c","d","e"], "range": [-25, 365], "padding": 0}, "axis": null},
  "color": {"field": "k", "type": "nominal", "scale": {"domain": ["a","b","c","d","e"], "range": ["#000000","#ff0000","#44ee22","#0000ee","#55eeee"]}, "legend": null}
 },
 "layer": [
  {"mark": {"type": "circle", "size": 7, "opacity": 1, "yOffset": -8}},
  {"mark": {"type": "circle", "size": 140, "opacity": 1, "yOffset": 10}},
  {"mark": {"type": "text", "align": "left", "baseline": "middle", "dx": 25, "yOffset": -8, "fontSize": 15, "color": "black"}, "encoding": {"text": {"field": "label"}, "color": {"value": "black"}}}
 ]
}
]
}
